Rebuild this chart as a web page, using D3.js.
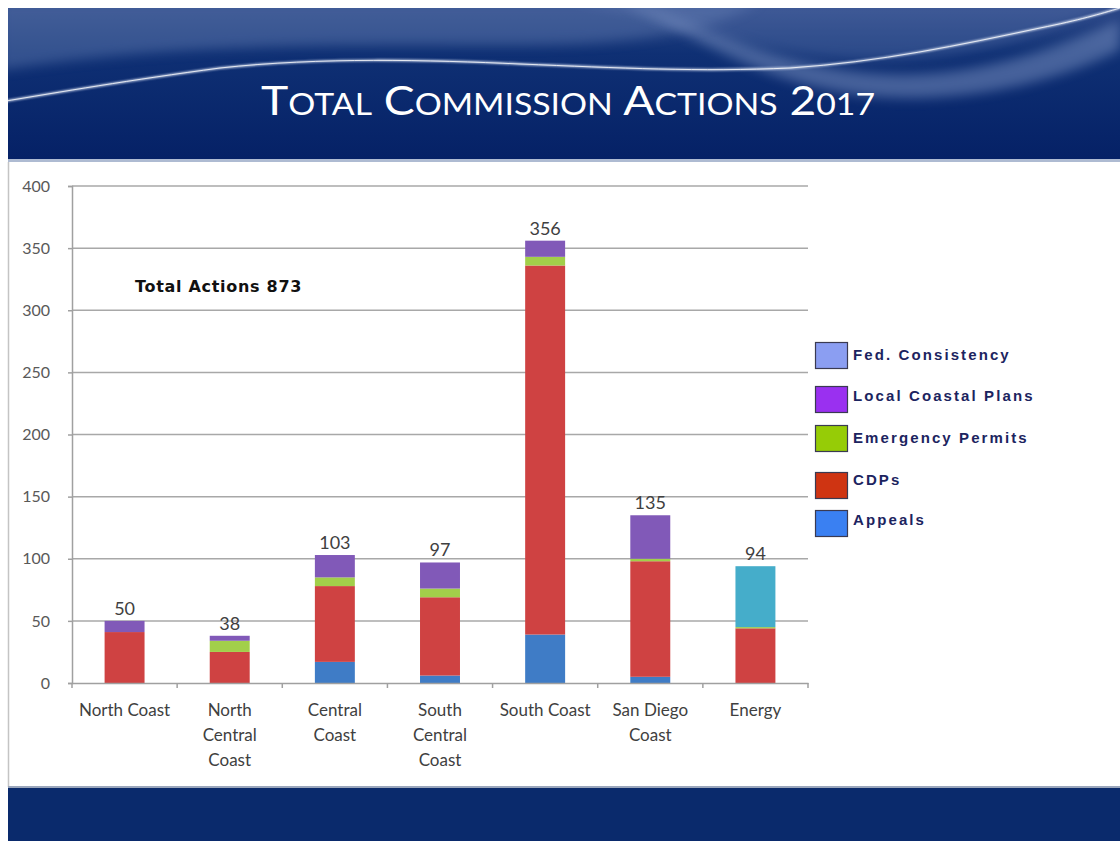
<!DOCTYPE html>
<html>
<head>
<meta charset="utf-8">
<script src="https://cdn.jsdelivr.net/npm/d3@7"></script>
<style>
  html, body { margin: 0; padding: 0; background: #ffffff; }
  svg { display: block; }
</style>
</head>
<body>
<svg id="chart" width="1120" height="841"></svg>
<script>
// ---------------- data ----------------
const categories = [["North Coast"], ["North", "Central", "Coast"], ["Central", "Coast"], ["South", "Central", "Coast"], ["South Coast"], ["San Diego", "Coast"], ["Energy"]];
const categoryKeys = ["North Coast", "North Central Coast", "Central Coast", "South Central Coast", "South Coast", "San Diego Coast", "Energy"];
const seriesNames = ["Appeals", "CDPs", "Emergency Permits", "Local Coastal Plans", "Fed. Consistency"];
const appeals            = [0, 0, 17, 6, 39, 5, 0];
const cdps               = [41, 25, 61, 63, 297, 93, 44];
const emergencyPermits   = [0, 9, 7, 7, 7, 2, 1];
const localCoastalPlans  = [9, 4, 18, 21, 13, 35, 0];
const fedConsistency     = [0, 0, 0, 0, 0, 0, 49];
const totals             = [50, 38, 103, 97, 356, 135, 94];
const yTicks             = [0, 50, 100, 150, 200, 250, 300, 350, 400];
const legendOrder        = ["Fed. Consistency", "Local Coastal Plans", "Emergency Permits", "CDPs", "Appeals"];
const titleText          = "Total Commission Actions 2017";
const noteText           = "Total Actions 873";

// ---------------- styles ----------------
const barColors = {
  "Appeals": "#3f7cc6",
  "CDPs": "#cf4242",
  "Emergency Permits": "#a2cf4a",
  "Local Coastal Plans": "#8159b8",
  "Fed. Consistency": "#45adca"
};
const swatchColors = {
  "Fed. Consistency": "#8b9ef2",
  "Local Coastal Plans": "#9a30f0",
  "Emergency Permits": "#96cc06",
  "CDPs": "#cf3412",
  "Appeals": "#3a80f2"
};

const svg = d3.select("#chart");
const defs = svg.append("defs");

// ---------------- header ----------------
const hg = defs.append("linearGradient").attr("id", "hdr").attr("x1", 0).attr("y1", 0).attr("x2", 0).attr("y2", 1);
hg.append("stop").attr("offset", "0%").attr("stop-color", "#2a4686");
hg.append("stop").attr("offset", "30%").attr("stop-color", "#0f3074");
hg.append("stop").attr("offset", "100%").attr("stop-color", "#052166");
const blur = defs.append("filter").attr("id", "blur").attr("x", "-10%").attr("y", "-50%").attr("width", "120%").attr("height", "200%");
blur.append("feGaussianBlur").attr("stdDeviation", 6);
const blur2 = defs.append("filter").attr("id", "blur2");
blur2.append("feGaussianBlur").attr("stdDeviation", 1);

const header = svg.append("g");
header.append("rect").attr("x", 8).attr("y", 8).attr("width", 1112).attr("height", 151).attr("fill", "url(#hdr)");
const clip = defs.append("clipPath").attr("id", "hclip");
clip.append("rect").attr("x", 8).attr("y", 8).attr("width", 1112).attr("height", 151);
const hw = header.append("g").attr("clip-path", "url(#hclip)");
hw.append("path")
  .attr("d", "M0,0 L760,0 C720,30 640,45 520,45 C380,45 200,40 0,70 Z")
  .attr("fill", "#5a74aa").attr("opacity", 0.5).attr("filter", "url(#blur)");
hw.append("path")
  .attr("d", "M620,0 C700,20 760,60 860,72 C950,82 1030,60 1120,20 L1120,50 C1040,90 940,105 860,95 C760,82 700,40 620,0 Z")
  .attr("fill", "#7f95c4").attr("opacity", 0.5).attr("filter", "url(#blur)");
hw.append("path")
  .attr("d", "M560,0 C640,10 720,40 800,55 C900,70 1000,55 1120,5 L1120,0 Z")
  .attr("fill", "#6e86bb").attr("opacity", 0.3).attr("filter", "url(#blur)");
const wave = "M0,102 C60,92 130,80 220,68 C320,57 430,60 520,64 C620,68 700,72 790,68 C880,62 960,45 1040,28 C1080,20 1100,14 1120,8";
hw.append("path").attr("d", wave)
  .attr("fill", "none").attr("stroke", "#dbe4f6").attr("stroke-width", 2).attr("opacity", 0.9).attr("filter", "url(#blur2)");
hw.append("path").attr("d", wave)
  .attr("fill", "none").attr("stroke", "#ffffff").attr("stroke-width", 1).attr("opacity", 0.8);

// title with small caps
const title = header.append("text")
  .attr("x", 568).attr("y", 115).attr("text-anchor", "middle")
  .attr("fill", "#ffffff")
  .style("font-family", "Lato, 'Open Sans', sans-serif");
titleText.split(" ").forEach((w, i) => {
  title.append("tspan").attr("font-size", 41).text((i ? " " : "") + w[0].toUpperCase());
  title.append("tspan").attr("font-size", 30).text(w.slice(1).toUpperCase());
});
title.attr("textLength", 614).attr("lengthAdjust", "spacingAndGlyphs");

// separator and panel
svg.append("rect").attr("x", 8).attr("y", 159).attr("width", 1112).attr("height", 3).attr("fill", "#aebbd2");
svg.append("line").attr("x1", 8.5).attr("x2", 8.5).attr("y1", 162).attr("y2", 787).attr("stroke", "#c4c4c4").attr("stroke-width", 1.5);
svg.append("rect").attr("x", 8).attr("y", 786).attr("width", 1112).attr("height", 2).attr("fill", "#9aa6bc");
svg.append("rect").attr("x", 8).attr("y", 788).attr("width", 1112).attr("height", 53).attr("fill", "#0a2a6c");

// ---------------- chart ----------------
const x = d3.scaleBand().domain(categoryKeys).range([72, 808]).paddingInner(0.62).paddingOuter(0.31);
const y = d3.scaleLinear().domain([0, 400]).range([683, 186]);

const font = "Lato, 'Open Sans', sans-serif";

const grid = svg.append("g");
grid.selectAll("line").data(yTicks.filter(d => d > 0)).join("line")
  .attr("x1", 72).attr("x2", 808)
  .attr("y1", d => y(d)).attr("y2", d => y(d))
  .attr("stroke", "#a8a8a8").attr("stroke-width", 1.5);

const yAxis = svg.append("g").attr("transform", "translate(72,0)")
  .call(d3.axisLeft(y).tickValues(yTicks).tickSize(4).tickPadding(18));
yAxis.select(".domain").attr("stroke", "#a0a0a0").attr("stroke-width", 1.5);
yAxis.selectAll(".tick line").attr("stroke", "#a0a0a0").attr("stroke-width", 1.5);
yAxis.selectAll(".tick text").attr("fill", "#595959").style("font-family", font).style("font-size", "16px");

const rows = categoryKeys.map((k, i) => ({
  key: k,
  "Appeals": appeals[i],
  "CDPs": cdps[i],
  "Emergency Permits": emergencyPermits[i],
  "Local Coastal Plans": localCoastalPlans[i],
  "Fed. Consistency": fedConsistency[i]
}));
const stacked = d3.stack().keys(seriesNames)(rows);
const bars = svg.append("g");
stacked.forEach(s => {
  bars.append("g").attr("fill", barColors[s.key])
    .selectAll("rect").data(s).join("rect")
    .attr("x", d => x(d.data.key))
    .attr("width", x.bandwidth())
    .attr("y", d => y(d[1]))
    .attr("height", d => y(d[0]) - y(d[1]));
});

const xAxis = svg.append("g").attr("transform", "translate(0,683)")
  .call(d3.axisBottom(x).tickSize(0).tickFormat(""));
xAxis.select(".domain").attr("stroke", "#a0a0a0").attr("stroke-width", 1.5);
const bounds = categoryKeys.map(k => x(k) - x.step() * x.paddingInner() / 2).concat([808]);
svg.append("g").selectAll("line").data(bounds).join("line")
  .attr("x1", d => d).attr("x2", d => d).attr("y1", 683).attr("y2", 688)
  .attr("stroke", "#a0a0a0").attr("stroke-width", 1.5);

const catG = svg.append("g");
categoryKeys.forEach((k, i) => {
  const t = catG.append("text")
    .attr("x", x(k) + x.bandwidth() / 2).attr("y", 716)
    .attr("text-anchor", "middle").attr("fill", "#404040")
    .style("font-family", font).style("font-size", "17px");
  categories[i].forEach((line, j) => {
    t.append("tspan").attr("x", x(k) + x.bandwidth() / 2).attr("dy", j ? 25 : 0).text(line);
  });
});

svg.append("g").selectAll("text").data(categoryKeys).join("text")
  .attr("x", d => x(d) + x.bandwidth() / 2)
  .attr("y", (d, i) => y(totals[i]) - 6)
  .attr("text-anchor", "middle").attr("fill", "#404040")
  .style("font-family", font).style("font-size", "18px")
  .text((d, i) => totals[i]);

svg.append("text").attr("x", 135).attr("y", 292).attr("fill", "#111")
  .style("font-family", "'DejaVu Sans', Verdana, sans-serif").style("font-size", "16px").style("font-weight", "bold")
  .style("letter-spacing", "0.7px")
  .text(noteText);

const legendY = [342, 386, 425, 472, 510];
const legendTextY = [360, 401, 443, 485, 525];
const leg = svg.append("g");
legendOrder.forEach((name, i) => {
  leg.append("rect").attr("x", 815.5).attr("y", legendY[i] + 0.5).attr("width", 32).attr("height", 26)
    .attr("fill", swatchColors[name]).attr("stroke", "#3a3a52").attr("stroke-width", 1.2);
  leg.append("text").attr("x", 853).attr("y", legendTextY[i])
    .attr("fill", "#1c2460")
    .style("font-family", "'Liberation Sans', Arial, sans-serif")
    .style("font-size", "15px").style("font-weight", "bold").style("letter-spacing", "2.1px")
    .text(name);
});
</script>
</body>
</html>
